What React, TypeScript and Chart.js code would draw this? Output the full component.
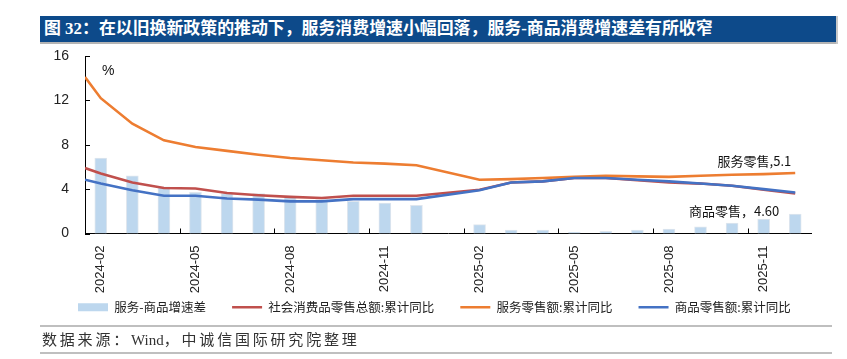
import React, { useEffect, useRef } from 'react';
import { Chart, registerables } from 'chart.js';

Chart.register(...registerables);

// ---------------- data ----------------
const categories = [
  '2024-02', '2024-03', '2024-04', '2024-05', '2024-06', '2024-07', '2024-08',
  '2024-09', '2024-10', '2024-11', '2024-12', '2025-01', '2025-02', '2025-03',
  '2025-04', '2025-05', '2025-06', '2025-07', '2025-08', '2025-09', '2025-10',
  '2025-11', '2025-12',
];
const tickCategories = ['2024-02', '2024-05', '2024-08', '2024-11', '2025-02', '2025-05', '2025-08', '2025-11'];

// 服务-商品增速差
const spreadValues = [6.8, 5.2, 4.2, 3.7, 3.6, 3.6, 3.35, 3.05, 2.9, 2.75, 2.55, null, 0.8, 0.3, 0.3, 0.1, 0.2, 0.3, 0.4, 0.6, 0.95, 1.3, 1.75];
// 社会消费品零售总额:累计同比
const totalRetailValues = [5.4, 4.6, 4.1, 4.05, 3.65, 3.45, 3.3, 3.2, 3.4, 3.4, 3.4, null, 3.95, 4.6, 4.7, 5.0, 5.0, 4.8, 4.6, 4.5, 4.3, 3.95, 3.6];
// 服务零售额:累计同比
const serviceRetailValues = [12.2, 9.9, 8.4, 7.8, 7.45, 7.1, 6.8, 6.6, 6.4, 6.3, 6.15, null, 4.85, 4.9, 5.0, 5.1, 5.2, 5.15, 5.1, 5.2, 5.3, 5.35, 5.45];
// 商品零售额:累计同比
const goodsRetailValues = [4.5, 3.9, 3.4, 3.4, 3.15, 3.05, 2.9, 2.9, 3.1, 3.1, 3.1, null, 3.9, 4.6, 4.7, 5.0, 5.0, 4.85, 4.7, 4.5, 4.3, 4.0, 3.7];
// line values where the lines meet the value axis (left edge)
const lineStartValues = [5.9, 14.1, 4.85]; // total, service, goods

const seriesNames = ['服务-商品增速差', '社会消费品零售总额:累计同比', '服务零售额:累计同比', '商品零售额:累计同比'];
const yTicks = [0, 4, 8, 12, 16];
const noteService = '服务零售,5.1';
const noteGoods = '商品零售，4.60';

const FONT = "'Liberation Sans', Arial, 'Noto Sans CJK SC', sans-serif";

const toPoints = (vals: (number | null)[]) => vals.map((v, i) => ({ x: i, y: v }));
const toLine = (start: number, vals: (number | null)[]) => [{ x: -0.5, y: start }, ...toPoints(vals)];

const decorPlugin = {
  id: 'decor',
  afterLayout(chart: any) {
    const lg = chart.legend;
    if (lg) {
      const dx = 52 - lg.left;
      lg.left += dx;
      lg.right += dx;
      const dy = 231 - lg.top;
      lg.top += dy;
      lg.bottom += dy;
    }
  },
  afterDatasetsDraw(chart: any) {
    const { ctx, chartArea, scales } = chart;
    const xs = scales.x;
    const ys = scales.y;
    ctx.save();
    ctx.strokeStyle = '#000';
    ctx.lineWidth = 1;
    ctx.beginPath();
    for (let k = 0; k < 7; k++) {
      const px = Math.round(xs.getPixelForValue(2.5 + 3 * k)) + 0.5;
      ctx.moveTo(px, chartArea.bottom);
      ctx.lineTo(px, chartArea.bottom - 5);
    }
    yTicks.forEach((t) => {
      const py = Math.round(ys.getPixelForValue(t)) + 0.5;
      ctx.moveTo(chartArea.left, py);
      ctx.lineTo(chartArea.left + 5, py);
    });
    ctx.stroke();

    ctx.fillStyle = '#111';
    ctx.font = `14px ${FONT}`;
    ctx.textBaseline = 'middle';
    ctx.textAlign = 'left';
    ctx.fillText('%', chartArea.left + 17, chartArea.top + 15);

    ctx.font = `13px 'Noto Sans CJK SC', ${FONT}`;
    ctx.textAlign = 'right';
    const last = categories.length - 1;
    ctx.fillText(noteService, xs.getPixelForValue(last) - 4, ys.getPixelForValue(6.5));
    ctx.fillText(noteGoods, xs.getPixelForValue(last) - 16, ys.getPixelForValue(2.0));
    ctx.restore();
  },
};

function RetailChart() {
  const ref = useRef<HTMLCanvasElement | null>(null);
  useEffect(() => {
    if (!ref.current) return;
    const chart = new Chart(ref.current, {
      type: 'bar',
      data: {
        datasets: [
          {
            type: 'bar',
            label: seriesNames[0],
            data: toPoints(spreadValues) as any,
            backgroundColor: '#bdd7ee',
            borderColor: '#dfe6ee',
            borderWidth: 1,
            barThickness: 12,
            order: 4,
          },
          {
            type: 'line',
            label: seriesNames[1],
            data: toLine(lineStartValues[0], totalRetailValues) as any,
            borderColor: '#c0504d',
            backgroundColor: '#c0504d',
            borderWidth: 2.6,
            pointRadius: 0,
            spanGaps: true,
            tension: 0,
            order: 3,
          },
          {
            type: 'line',
            label: seriesNames[2],
            data: toLine(lineStartValues[1], serviceRetailValues) as any,
            borderColor: '#ed7d31',
            backgroundColor: '#ed7d31',
            borderWidth: 2.6,
            pointRadius: 0,
            spanGaps: true,
            tension: 0,
            order: 2,
          },
          {
            type: 'line',
            label: seriesNames[3],
            data: toLine(lineStartValues[2], goodsRetailValues) as any,
            borderColor: '#4472c4',
            backgroundColor: '#4472c4',
            borderWidth: 2.6,
            pointRadius: 0,
            spanGaps: true,
            tension: 0,
            order: 1,
          },
        ],
      },
      options: {
        responsive: false,
        animation: false,
        devicePixelRatio: 1,
        layout: { padding: { left: 0, right: 36, top: 12, bottom: 0 } },
        plugins: {
          tooltip: { enabled: false },
          legend: {
            position: 'bottom',
            align: 'start',
            labels: {
              font: { size: 12.5, family: `'Noto Sans CJK SC', ${FONT}` },
              color: '#222',
              padding: 26,
              boxWidth: 30,
              boxHeight: 8,
              usePointStyle: true,
              pointStyleWidth: 30,
              generateLabels: (c: any) =>
                c.data.datasets.map((ds: any, i: number) => ({
                  text: ds.label,
                  datasetIndex: i,
                  fillStyle: ds.backgroundColor,
                  strokeStyle: ds.type === 'line' ? ds.borderColor : ds.backgroundColor,
                  lineWidth: ds.type === 'line' ? 2.6 : 0,
                  pointStyle: ds.type === 'line' ? 'line' : 'rect',
                  hidden: false,
                  fontColor: '#222',
                })),
            },
          },
        },
        scales: {
          x: {
            type: 'linear',
            offset: false,
            min: -0.5,
            max: categories.length - 0.5,
            grid: { display: false, drawTicks: false, offset: false },
            border: { display: true, color: '#000', width: 1 },
            afterBuildTicks: (s: any) => {
              s.ticks = tickCategories.map((c) => ({ value: categories.indexOf(c) }));
            },
            afterFit: (s: any) => {
              s.height = 64;
              s.paddingLeft = 0;
              s.paddingRight = 0;
              s.paddingTop = 0;
              s.paddingBottom = 0;
            },
            ticks: {
              autoSkip: false,
              minRotation: 90,
              maxRotation: 90,
              padding: 12,
              color: '#222',
              font: { size: 13, family: FONT },
              callback: (v: any) => categories[Math.round(Number(v))] ?? '',
            },
          },
          y: {
            type: 'linear',
            min: 0,
            max: 16,
            grid: { display: false, drawTicks: false },
            border: { display: true, color: '#000', width: 1 },
            afterBuildTicks: (s: any) => {
              s.ticks = yTicks.map((v) => ({ value: v }));
            },
            afterFit: (s: any) => {
              s.width = 85;
              s.paddingLeft = 0;
              s.paddingRight = 0;
              s.paddingTop = 0;
              s.paddingBottom = 0;
            },
            ticks: {
              padding: 16,
              color: '#222',
              font: { size: 14, family: FONT },
            },
          },
        },
      },
      plugins: [decorPlugin],
    } as any);
    return () => chart.destroy();
  }, []);
  return <canvas ref={ref} width={847} height={302} style={{ position: 'absolute', left: 0, top: 44, width: 847, height: 302 }} />;
}

const footerCjk = { letterSpacing: 2.8 };

export default function App() {
  return (
    <div style={{ position: 'absolute', left: 0, top: 0, width: 847, height: 359, background: '#fff', overflow: 'hidden' }}>
      <div
        style={{
          position: 'absolute',
          left: 40,
          top: 16,
          width: 792,
          height: 26,
          background: '#0d4a8a',
          borderBottom: '2px solid #b4b4b4',
          boxShadow: '2px 0 0 #c8c8c8',
          color: '#fff',
          fontFamily: "'Liberation Serif', 'Noto Sans CJK SC', serif",
          fontWeight: 'bold',
          fontSize: 16.9,
          lineHeight: '26px',
          paddingLeft: 4,
          boxSizing: 'content-box',
          whiteSpace: 'nowrap',
        }}
      >
        图 32：在以旧换新政策的推动下，服务消费增速小幅回落，服务-商品消费增速差有所收窄
      </div>
      <RetailChart />
      <div style={{ position: 'absolute', left: 40, top: 325, width: 792, height: 2, background: '#bfbfbf' }} />
      <div
        style={{
          position: 'absolute',
          left: 42,
          top: 330,
          fontFamily: "'Liberation Serif', 'Noto Sans CJK SC', serif",
          fontSize: 15,
          color: '#333',
          lineHeight: '20px',
          whiteSpace: 'nowrap',
        }}
      >
        <span style={footerCjk}>数据来源：</span>Wind<span style={footerCjk}>，中诚信国际研究院整理</span>
      </div>
      <div style={{ position: 'absolute', left: 40, top: 352, width: 792, height: 2, background: '#bfbfbf' }} />
    </div>
  );
}
